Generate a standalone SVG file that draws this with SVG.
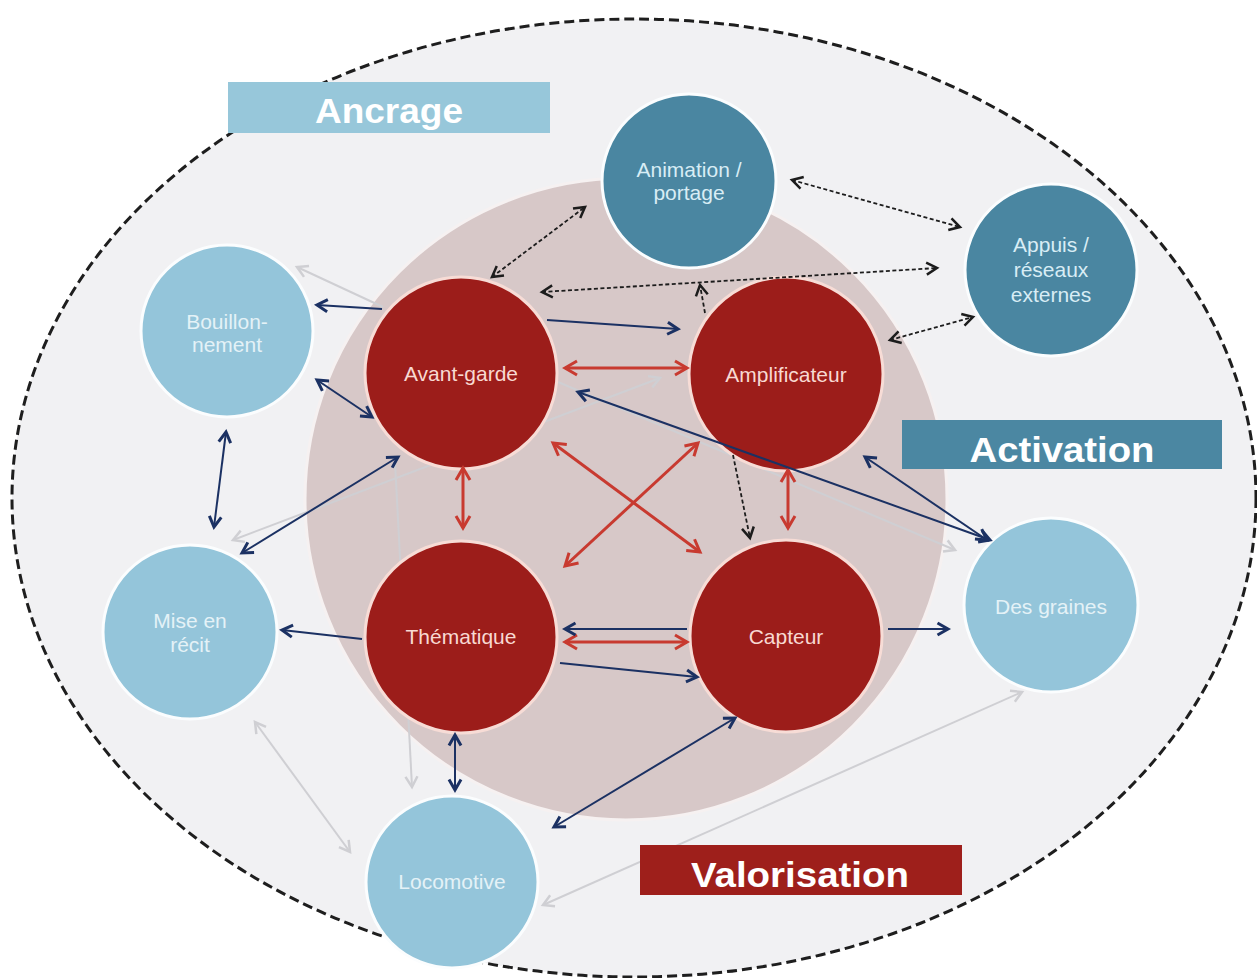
<svg xmlns="http://www.w3.org/2000/svg" width="1257" height="978" viewBox="0 0 1257 978">
<style>
.nt{font-family:"Liberation Sans",Arial,sans-serif;font-size:21px;text-anchor:middle}
.lb{fill:#94c5da;stroke:#fbfdfe;stroke-width:3}
.lbt{fill:#e4f2f7}
.teal{fill:#4a86a1;stroke:#fbfdfe;stroke-width:3}
.tealt{fill:#d8edf5}
.red{fill:#9c1d1a;stroke:#f7dcd6;stroke-width:3}
.redt{fill:#f8d9d2}
.lt{font-family:"Liberation Sans",Arial,sans-serif;font-weight:bold;font-size:35px;text-anchor:middle;fill:#ffffff}
.cr{stroke:#c83a30;stroke-width:3;fill:none}
.cn{stroke:#1b3163;stroke-width:2;fill:none}
.cb{stroke:#1c1c1c;stroke-width:1.8;stroke-dasharray:4 2.5;fill:none}
.cg{stroke:#cfcfd3;stroke-width:2;fill:none}
</style>
<defs>
<marker id="mr" markerUnits="userSpaceOnUse" markerWidth="18" markerHeight="18" viewBox="0 0 18 18" refX="14" refY="9" orient="auto-start-reverse"><path d="M2,2 L14,9 L2,16" fill="none" stroke="#c83a30" stroke-width="3"/></marker>
<marker id="mn" markerUnits="userSpaceOnUse" markerWidth="16" markerHeight="16" viewBox="0 0 16 16" refX="12.5" refY="8" orient="auto-start-reverse"><path d="M2,2 L12.5,8 L2,14" fill="none" stroke="#1b3163" stroke-width="3"/></marker>
<marker id="mb" markerUnits="userSpaceOnUse" markerWidth="16" markerHeight="16" viewBox="0 0 16 16" refX="12.5" refY="8" orient="auto-start-reverse"><path d="M2,2 L12.5,8 L2,14" fill="none" stroke="#1c1c1c" stroke-width="2.5"/></marker>
<marker id="mg" markerUnits="userSpaceOnUse" markerWidth="16" markerHeight="16" viewBox="0 0 16 16" refX="12.5" refY="8" orient="auto-start-reverse"><path d="M2,2 L12.5,8 L2,14" fill="none" stroke="#cfcfd3" stroke-width="2.5"/></marker>
</defs>
<rect width="1257" height="978" fill="#ffffff"/>
<ellipse id="outer" cx="634" cy="498" rx="622" ry="479" fill="#f1f1f3" stroke="#1e1e1e" stroke-width="3" stroke-dasharray="10 5"/>
<circle id="core" cx="626" cy="499" r="321" fill="#d7c8c8" stroke="#f6f1f1" stroke-width="3"/>
<g id="connectors-back">
<line class="cg" x1="383" y1="307" x2="297" y2="267" marker-end="url(#mg)"/>
<line class="cg" x1="233" y1="540" x2="660" y2="378" marker-start="url(#mg)" marker-end="url(#mg)"/>
<line class="cg" x1="395" y1="462" x2="412" y2="787" marker-end="url(#mg)"/>
<line class="cg" x1="255" y1="722" x2="350" y2="852" marker-start="url(#mg)" marker-end="url(#mg)"/>
<line class="cg" x1="543" y1="905" x2="1022" y2="692" marker-start="url(#mg)" marker-end="url(#mg)"/>
<line class="cg" x1="558" y1="382" x2="955" y2="550" marker-end="url(#mg)"/>
</g>
<g id="node-animation"><circle class="teal" cx="689" cy="181" r="87"/><text class="nt tealt" x="689" y="177">Animation /</text><text class="nt tealt" x="689" y="200">portage</text></g>
<g id="node-appuis"><circle class="teal" cx="1051" cy="270" r="86"/><text class="nt tealt" x="1051" y="252">Appuis /</text><text class="nt tealt" x="1051" y="277">réseaux</text><text class="nt tealt" x="1051" y="302">externes</text></g>
<g id="node-bouillonnement"><circle class="lb" cx="227" cy="331" r="86"/><text class="nt lbt" x="227" y="329">Bouillon-</text><text class="nt lbt" x="227" y="352">nement</text></g>
<g id="node-mise-en-recit"><circle class="lb" cx="190" cy="632" r="87"/><text class="nt lbt" x="190" y="628">Mise en</text><text class="nt lbt" x="190" y="652">récit</text></g>
<g id="node-locomotive"><circle class="lb" cx="452" cy="882" r="86"/><text class="nt lbt" x="452" y="889">Locomotive</text></g>
<g id="node-des-graines"><circle class="lb" cx="1051" cy="605" r="87"/><text class="nt lbt" x="1051" y="614">Des graines</text></g>
<g id="node-avant-garde"><circle class="red" cx="461" cy="373" r="96"/><text class="nt redt" x="461" y="381">Avant-garde</text></g>
<g id="node-amplificateur"><circle class="red" cx="786" cy="374" r="97"/><text class="nt redt" x="786" y="382">Amplificateur</text></g>
<g id="node-thematique"><circle class="red" cx="461" cy="637" r="96"/><text class="nt redt" x="461" y="644">Thématique</text></g>
<g id="node-capteur"><circle class="red" cx="786" cy="636" r="96"/><text class="nt redt" x="786" y="644">Capteur</text></g>
<g id="connectors">
<line class="cr" x1="565" y1="368" x2="687" y2="368" marker-start="url(#mr)" marker-end="url(#mr)"/>
<line class="cr" x1="463" y1="468" x2="463" y2="528" marker-start="url(#mr)" marker-end="url(#mr)"/>
<line class="cr" x1="788" y1="470" x2="788" y2="528" marker-start="url(#mr)" marker-end="url(#mr)"/>
<line class="cr" x1="553" y1="443" x2="700" y2="552" marker-start="url(#mr)" marker-end="url(#mr)"/>
<line class="cr" x1="698" y1="443" x2="565" y2="566" marker-start="url(#mr)" marker-end="url(#mr)"/>
<line class="cr" x1="565" y1="642" x2="687" y2="642" marker-start="url(#mr)" marker-end="url(#mr)"/>
<line class="cn" x1="687" y1="629" x2="565" y2="629" marker-end="url(#mn)"/>
<line class="cn" x1="547" y1="320" x2="678" y2="329" marker-end="url(#mn)"/>
<line class="cn" x1="382" y1="309" x2="317" y2="305" marker-end="url(#mn)"/>
<line class="cn" x1="317" y1="380" x2="372" y2="417" marker-start="url(#mn)" marker-end="url(#mn)"/>
<line class="cn" x1="226" y1="432" x2="214" y2="527" marker-start="url(#mn)" marker-end="url(#mn)"/>
<line class="cn" x1="398" y1="457" x2="242" y2="553" marker-start="url(#mn)" marker-end="url(#mn)"/>
<line class="cn" x1="362" y1="639" x2="282" y2="630" marker-end="url(#mn)"/>
<line class="cn" x1="560" y1="663" x2="697" y2="677" marker-end="url(#mn)"/>
<line class="cn" x1="888" y1="629" x2="948" y2="629" marker-end="url(#mn)"/>
<line class="cn" x1="455" y1="735" x2="455" y2="790" marker-start="url(#mn)" marker-end="url(#mn)"/>
<line class="cn" x1="554" y1="827" x2="735" y2="718" marker-start="url(#mn)" marker-end="url(#mn)"/>
<line class="cn" x1="578" y1="392" x2="990" y2="540" marker-start="url(#mn)" marker-end="url(#mn)"/>
<line class="cn" x1="865" y1="457" x2="987" y2="540" marker-start="url(#mn)" marker-end="url(#mn)"/>
<line class="cb" x1="492" y1="277" x2="585" y2="207" marker-start="url(#mb)" marker-end="url(#mb)"/>
<line class="cb" x1="542" y1="292" x2="937" y2="268" marker-start="url(#mb)" marker-end="url(#mb)"/>
<line class="cb" x1="705" y1="313" x2="700" y2="285" marker-end="url(#mb)"/>
<line class="cb" x1="792" y1="180" x2="960" y2="227" marker-start="url(#mb)" marker-end="url(#mb)"/>
<line class="cb" x1="890" y1="340" x2="973" y2="317" marker-start="url(#mb)" marker-end="url(#mb)"/>
<line class="cb" x1="733" y1="455" x2="750" y2="538" marker-end="url(#mb)"/>
</g>
<g id="label-ancrage"><rect x="228" y="82" width="322" height="51" fill="#97c7da"/><text class="lt" x="389" y="123" textLength="148" lengthAdjust="spacingAndGlyphs">Ancrage</text></g>
<g id="label-activation"><rect x="902" y="420" width="320" height="49" fill="#4b87a2"/><text class="lt" x="1062" y="462" textLength="185" lengthAdjust="spacingAndGlyphs">Activation</text></g>
<g id="label-valorisation"><rect x="640" y="845" width="322" height="50" fill="#9e1f1b"/><text class="lt" x="800" y="887" textLength="218" lengthAdjust="spacingAndGlyphs">Valorisation</text></g>
</svg>
